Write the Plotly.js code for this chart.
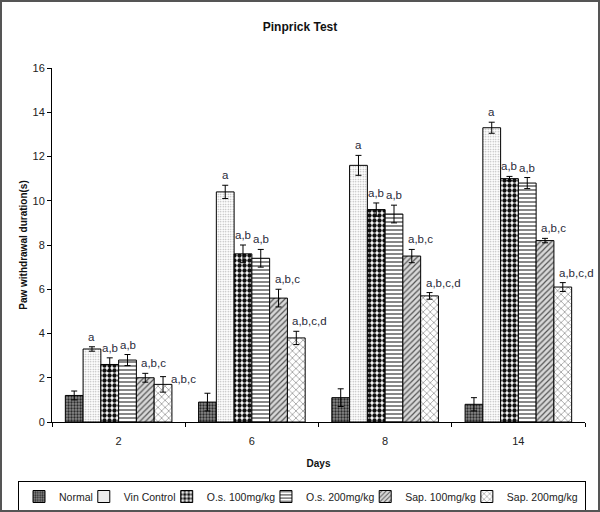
<!DOCTYPE html>
<html><head><meta charset="utf-8">
<script src="https://cdn.plot.ly/plotly-3.0.1.min.js"></script>
<style>
html,body{margin:0;padding:0;background:#fff;}
#wrap{position:relative;width:600px;height:512px;}
#wrap:after{content:'';position:absolute;left:0;top:0;right:0;bottom:0;border:2px solid #555;pointer-events:none;}
#chart{width:600px;height:512px;}
</style></head>
<body><div id="wrap"><div id="chart"></div></div>
<script>
var days = ['2', '6', '8', '14'];
var seriesNames = ['Normal', 'Vin Control', 'O.s. 100mg/kg', 'O.s. 200mg/kg', 'Sap. 100mg/kg', 'Sap. 200mg/kg'];
var normal     = [1.2, 0.9, 1.1, 0.8];
var vinControl = [3.3, 10.4, 11.6, 13.3];
var os100      = [2.6, 7.6, 9.6, 11.0];
var os200      = [2.8, 7.4, 9.4, 10.8];
var sap100     = [2.0, 5.6, 7.5, 8.2];
var sap200     = [1.7, 3.8, 5.7, 6.1];
var errNormal  = [0.2, 0.4, 0.4, 0.3];
var errVin     = [0.1, 0.3, 0.45, 0.25];
var errOs100   = [0.3, 0.4, 0.3, 0.1];
var errOs200   = [0.25, 0.4, 0.4, 0.25];
var errSap100  = [0.2, 0.4, 0.3, 0.1];
var errSap200  = [0.35, 0.3, 0.15, 0.2];
var lblNormal  = ['', '', '', ''];
var lblVin     = ['a', 'a', 'a', 'a'];
var lblOs100   = ['a,b', 'a,b', 'a,b', 'a,b'];
var lblOs200   = ['a,b', 'a,b', 'a,b', 'a,b'];
var lblSap100  = ['a,b,c', 'a,b,c', 'a,b,c', 'a,b,c'];
var lblSap200  = ['a,b,c', 'a,b,c,d', 'a,b,c,d', 'a,b,c,d'];

var values = [normal, vinControl, os100, os200, sap100, sap200];
var errs = [errNormal, errVin, errOs100, errOs200, errSap100, errSap200];
var labels = [lblNormal, lblVin, lblOs100, lblOs200, lblSap100, lblSap200];

var patterns = [
  {shape: '.', bgcolor: '#8a8a8a', fgcolor: '#2a2a2a', size: 3, solidity: 0.45},
  {shape: '.', bgcolor: '#ffffff', fgcolor: '#aaaaaa', size: 2.5, solidity: 0.25},
  {shape: '.', bgcolor: '#ffffff', fgcolor: '#111111', size: 5, solidity: 0.6},
  {shape: '-', bgcolor: '#ffffff', fgcolor: '#555555', size: 4, solidity: 0.35},
  {shape: '/', bgcolor: '#d8d8d8', fgcolor: '#555555', size: 4, solidity: 0.3},
  {shape: 'x', bgcolor: '#ffffff', fgcolor: '#888888', size: 5, solidity: 0.25}
];

// approximate legend text widths (Liberation Sans) to pack the legend on one row
var legendFont = 10.5;
var legendTextW = [35.4, 54.4, 71.5, 71.5, 74, 74].map(function (w) { return w * legendFont / 11; });

// label nudges (series index, day index) -> [dx, dy] in px, to avoid crowded labels
var labelNudge = {'5,0': [12, -12]};

var bargap = 0.2;
var margin = {l: 52, r: 15, t: 68, b: 90, autoexpand: false};
var plotW = 600 - margin.l - margin.r;
var plotH = 512 - margin.t - margin.b;
var barW = plotW / days.length * (1 - bargap) / seriesNames.length;

var traces = seriesNames.map(function (name, i) {
  return {
    type: 'bar', name: name, x: days, y: values[i],
    legendwidth: i < seriesNames.length - 1 ? legendTextW[i] - 14 : legendTextW[i] + 2,
    marker: {color: patterns[i].bgcolor, pattern: patterns[i], line: {color: '#000', width: 1}},
    error_y: {type: 'data', array: errs[i], visible: true, color: '#000', thickness: 1, width: 3}
  };
});

var annotations = [];
seriesNames.forEach(function (name, i) {
  days.forEach(function (d, j) {
    var t = labels[i][j];
    if (!t) return;
    var long = t.length > 3;
    var nudge = labelNudge[i + ',' + j] || [0, 0];
    annotations.push({
      x: j, y: values[i][j] + errs[i][j], xref: 'x', yref: 'y', text: t, showarrow: false,
      xanchor: long ? 'left' : 'center', yanchor: 'bottom',
      xshift: (long ? (i - 3) * barW + 3 : (i - 2.5) * barW) + nudge[0], yshift: 2 + nudge[1],
      font: {family: 'Liberation Sans, Arial, sans-serif', size: 11.5, color: '#2a2a3a'}
    });
  });
});

var layout = {
  width: 600, height: 512,
  margin: margin,
  paper_bgcolor: '#fff', plot_bgcolor: '#fff',
  font: {family: 'Liberation Sans, Arial, sans-serif', size: 11, color: '#222'},
  title: {text: '<b>Pinprick Test</b>', x: 0.5, xanchor: 'center', y: 0.947, yanchor: 'middle', font: {size: 12, color: '#111'}},
  barmode: 'group', bargap: bargap, bargroupgap: 0,
  xaxis: {type: 'category', range: [-0.5, 3.5], tickson: 'boundaries', ticks: 'outside', ticklen: 4, tickcolor: '#000',
    ticklabelstandoff: 9,
    showline: true, linecolor: '#000', linewidth: 1, showgrid: false, automargin: false,
    title: {text: '<b>Days</b>', font: {size: 10, color: '#111'}, standoff: 13}},
  yaxis: {range: [0, 16], dtick: 2, ticks: 'outside', ticklen: 4, tickcolor: '#000',
    showline: true, linecolor: '#000', linewidth: 1, showgrid: false, zeroline: false, automargin: false,
    title: {text: '<b>Paw withdrawal duration(s)</b>', font: {size: 10, color: '#111'}, standoff: 3}},
  legend: {orientation: 'h', x: (18 - margin.l) / plotW, xanchor: 'left',
    y: -(481 - (512 - margin.b)) / plotH, yanchor: 'top',
    bordercolor: '#000', borderwidth: 1, font: {size: legendFont, color: '#222'}, itemwidth: 30,
    tracegroupgap: 0},
  annotations: annotations,
  showlegend: true
};

Plotly.newPlot('chart', traces, layout, {displayModeBar: false, staticPlot: true});
</script>
</body></html>
